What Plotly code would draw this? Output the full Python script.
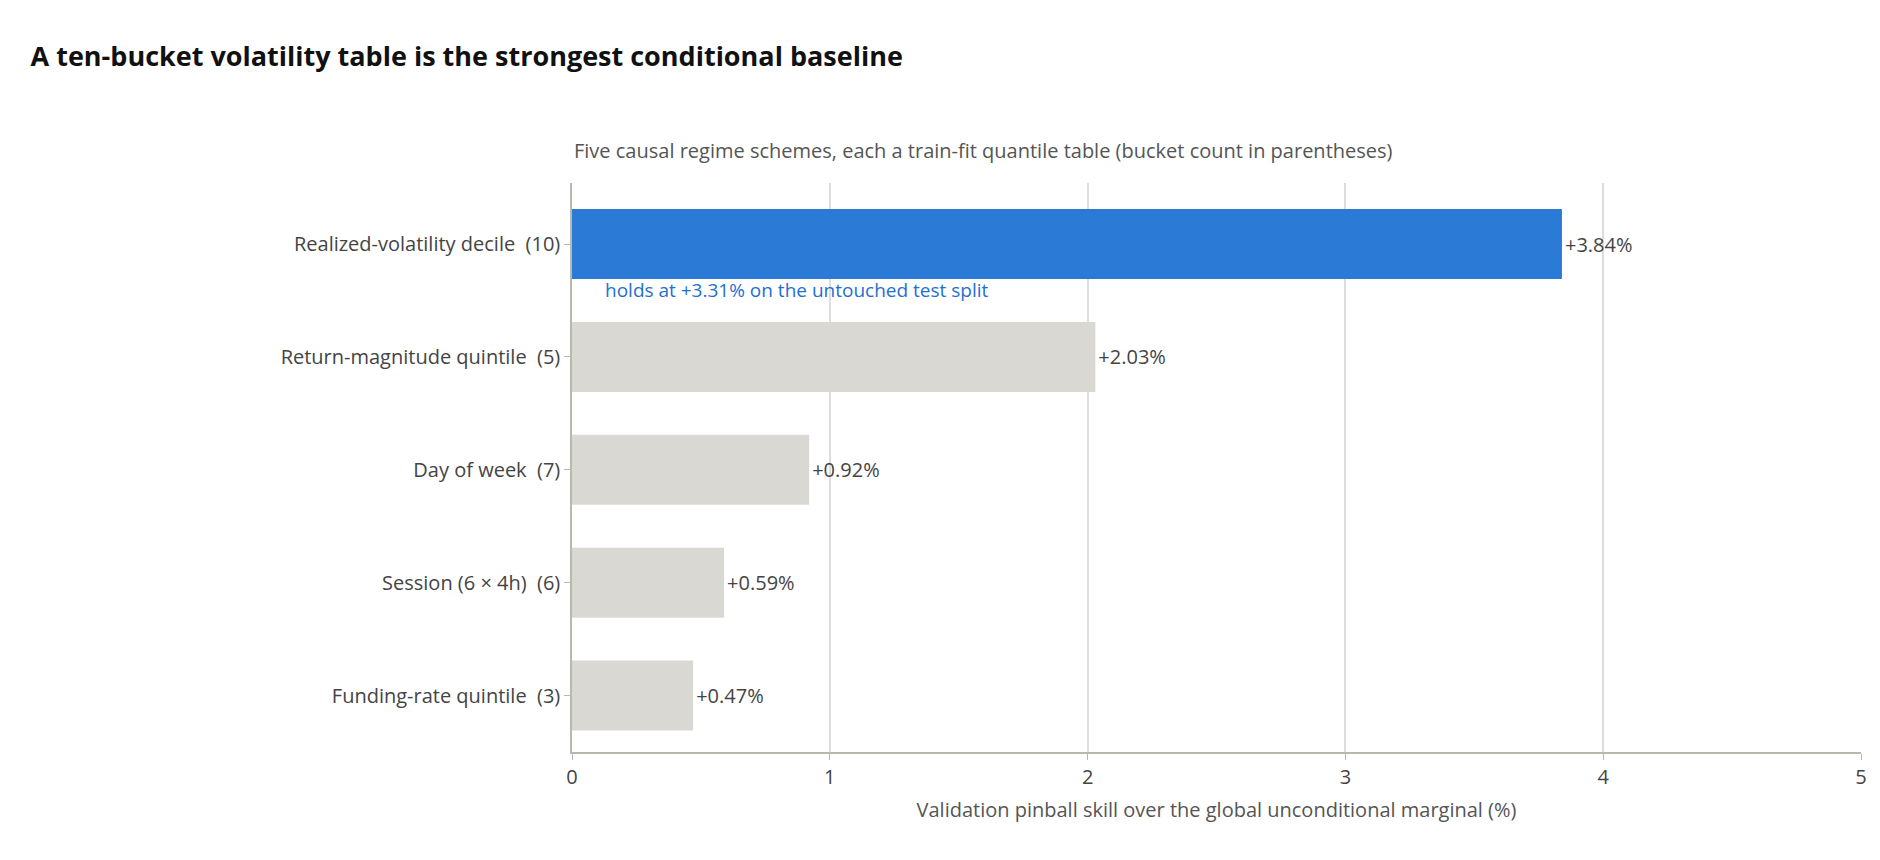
import plotly.graph_objects as go

schemes = [
    "Realized-volatility decile  (10)",
    "Return-magnitude quintile  (5)",
    "Day of week  (7)",
    "Session (6 × 4h)  (6)",
    "Funding-rate quintile  (3)",
]
skill = [3.84, 2.03, 0.92, 0.59, 0.47]
labels = ["+3.84%", "+2.03%", "+0.92%", "+0.59%", "+0.47%"]
colors = ["#2B7BD6", "#D9D8D3", "#D9D8D3", "#D9D8D3", "#D9D8D3"]

FONT = "Open Sans, Noto Sans, sans-serif"

fig = go.Figure(go.Bar(
    x=skill, y=schemes, orientation="h",
    marker=dict(color=colors, line=dict(width=0)),
    text=labels, textposition="outside", cliponaxis=False,
    textfont=dict(size=20, color="#444"),
    width=0.62,
))

fig.add_annotation(
    x=0.12, y=0, yshift=-46, xref="x", yref="y",
    text="holds at +3.31% on the untouched test split",
    showarrow=False, xanchor="left",
    font=dict(size=19, color="#1F6FD1", family=FONT),
)

fig.update_layout(
    width=1880, height=860,
    paper_bgcolor="white", plot_bgcolor="white",
    font=dict(family=FONT, size=20, color="#444"),
    title=dict(
        text="<b>A ten-bucket volatility table is the strongest conditional baseline</b>",
        x=0.012, y=0.955, xanchor="left", font=dict(size=27, color="#111"),
    ),
    margin=dict(l=564, r=27, t=175, b=116),
    showlegend=False,
    annotations=list(fig.layout.annotations) + [dict(
        text="Five causal regime schemes, each a train-fit quantile table (bucket count in parentheses)",
        xref="paper", yref="paper", x=0, y=1.03, xanchor="left", yanchor="bottom",
        showarrow=False, font=dict(size=20, color="#555"),
    )],
)
fig.update_xaxes(
    range=[0, 5], dtick=1, showgrid=True, gridcolor="#DDDDDD", gridwidth=1.5,
    zeroline=False, showline=True, linecolor="#B8B8AE", linewidth=1.5,
    ticks="outside", ticklen=6, tickcolor="#B8B8AE",
    title=dict(text="Validation pinball skill over the global unconditional marginal (%)",
               font=dict(size=20, color="#555"), standoff=14),
)
fig.update_yaxes(
    autorange="reversed", showline=True, linecolor="#B8B8AE", linewidth=1.5,
    ticks="outside", ticklen=6, tickcolor="#B8B8AE", showgrid=False,
)

fig.write_html("out.html")
